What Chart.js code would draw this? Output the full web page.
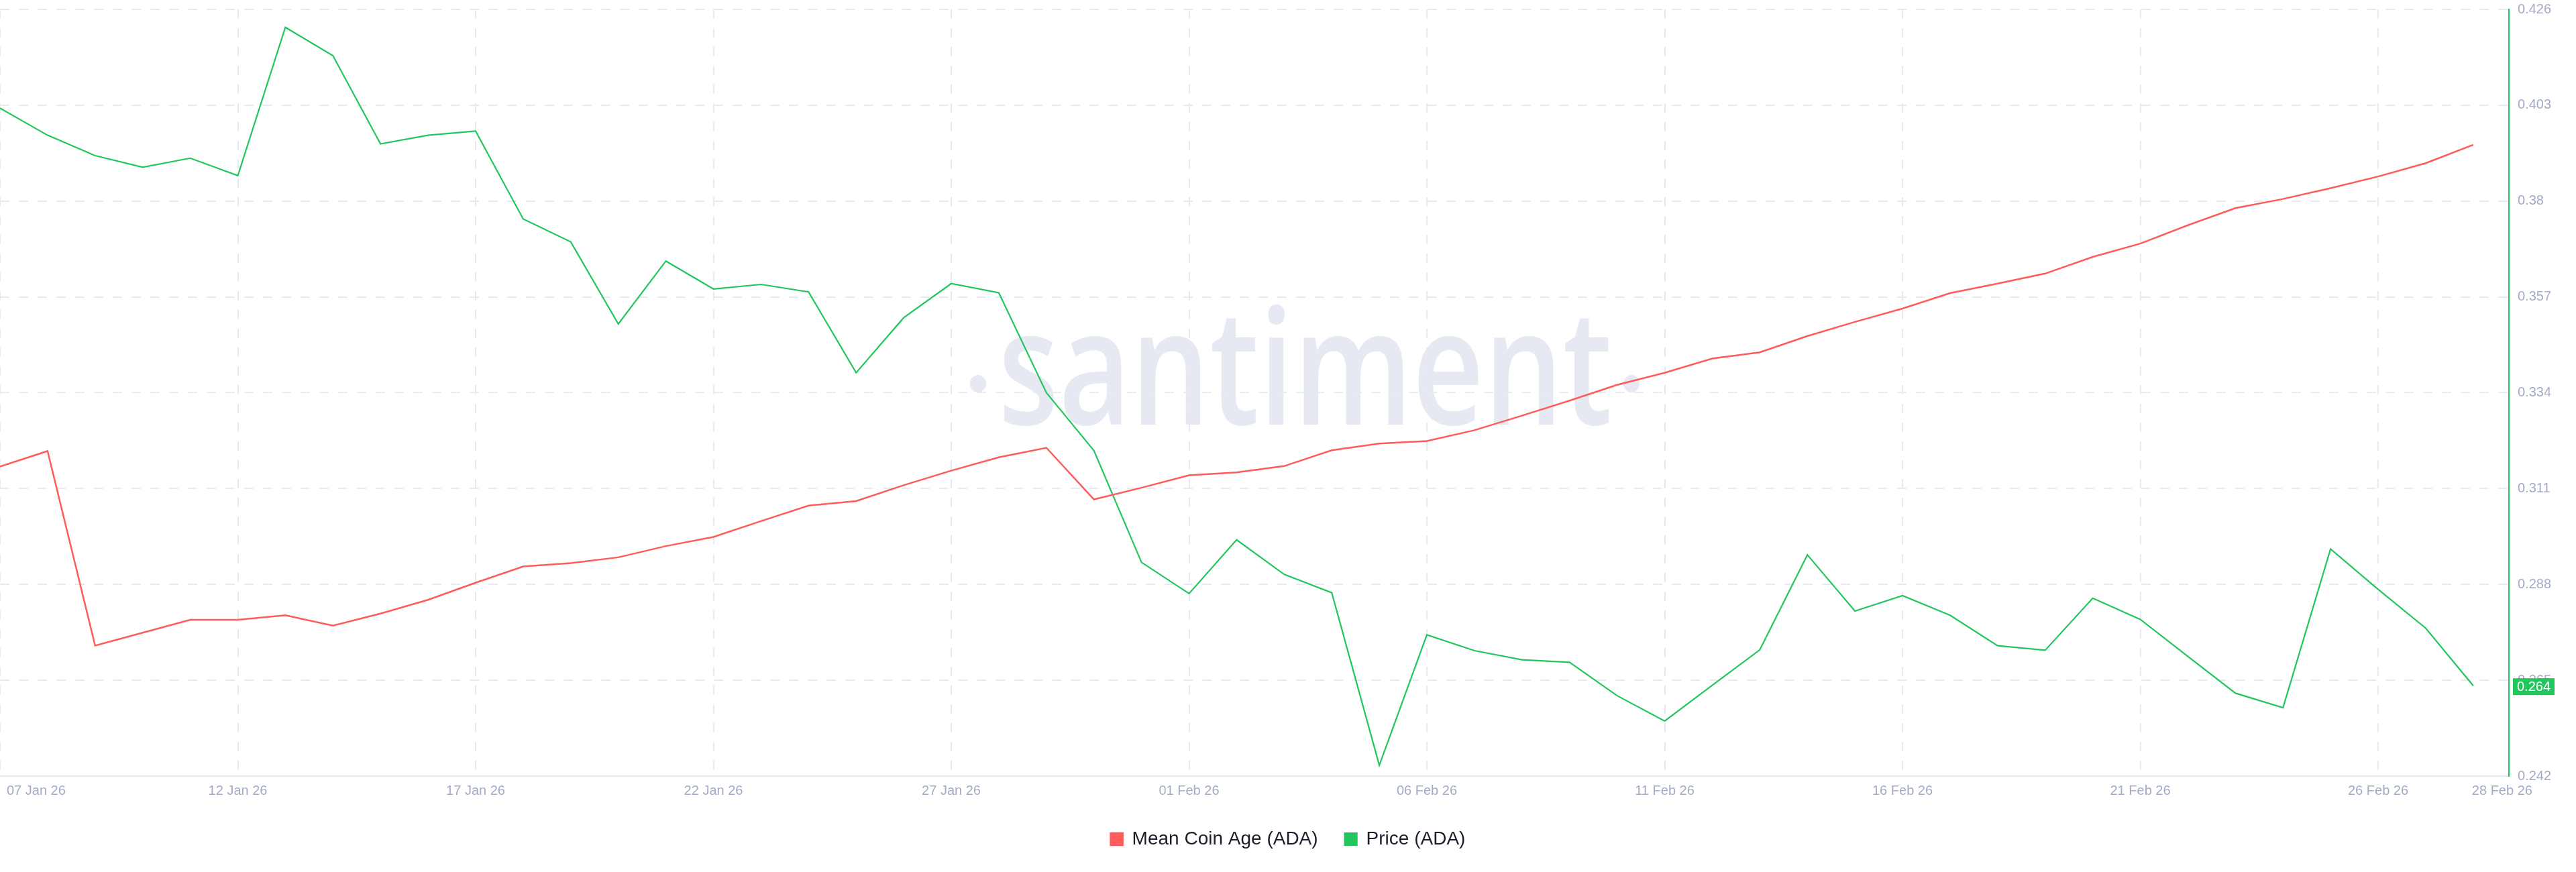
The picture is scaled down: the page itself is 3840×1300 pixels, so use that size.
<!DOCTYPE html>
<html>
<head>
<meta charset="utf-8">
<script src="https://cdn.jsdelivr.net/npm/chart.js@4.4.1/dist/chart.umd.min.js"></script>
<style>
    html, body { margin: 0; padding: 0; background: #ffffff; }
    #wrap { width: 3840px; height: 1300px; position: relative; }
</style>
</head>
<body>
<div id="wrap"><canvas id="chart"></canvas></div>
<script>
// Dates (one point per day)
const dates = [
    '07 Jan 26', '08 Jan 26', '09 Jan 26', '10 Jan 26', '11 Jan 26', '12 Jan 26', '13 Jan 26',
    '14 Jan 26', '15 Jan 26', '16 Jan 26', '17 Jan 26', '18 Jan 26', '19 Jan 26', '20 Jan 26',
    '21 Jan 26', '22 Jan 26', '23 Jan 26', '24 Jan 26', '25 Jan 26', '26 Jan 26', '27 Jan 26',
    '28 Jan 26', '29 Jan 26', '30 Jan 26', '31 Jan 26', '01 Feb 26', '02 Feb 26', '03 Feb 26',
    '04 Feb 26', '05 Feb 26', '06 Feb 26', '07 Feb 26', '08 Feb 26', '09 Feb 26', '10 Feb 26',
    '11 Feb 26', '12 Feb 26', '13 Feb 26', '14 Feb 26', '15 Feb 26', '16 Feb 26', '17 Feb 26',
    '18 Feb 26', '19 Feb 26', '20 Feb 26', '21 Feb 26', '22 Feb 26', '23 Feb 26', '24 Feb 26',
    '25 Feb 26', '26 Feb 26', '27 Feb 26', '28 Feb 26'
];

// Price (ADA), USD
const price = [
    0.4023, 0.3958, 0.3909, 0.3881, 0.3903, 0.3861, 0.4217,
    0.4149, 0.3937, 0.3958, 0.3968, 0.3757, 0.3702, 0.3505,
    0.3656, 0.3589, 0.3600, 0.3582, 0.3388, 0.3520, 0.3602,
    0.3580, 0.3340, 0.3201, 0.2933, 0.2858, 0.2987, 0.2904,
    0.2860, 0.2446, 0.2759, 0.2721, 0.2699, 0.2693, 0.2613,
    0.2552, 0.2638, 0.2723, 0.2951, 0.2816, 0.2853, 0.2806,
    0.2733, 0.2722, 0.2847, 0.2796, 0.2707, 0.2619, 0.2584,
    0.2965, 0.2868, 0.2775, 0.2637
];

// Mean Coin Age (ADA), days (own hidden axis)
const meanCoinAge = [
    316.3, 320.0, 273.3, 276.4, 279.5, 279.5, 280.6,
    278.1, 281.0, 284.3, 288.4, 292.3, 293.1, 294.5,
    297.2, 299.4, 303.2, 306.9, 308.0, 311.8, 315.3,
    318.5, 320.8, 308.4, 311.2, 314.2, 314.9, 316.4,
    320.2, 321.8, 322.4, 325.0, 328.5, 332.1, 335.9,
    338.8, 342.2, 343.7, 347.6, 351.0, 354.2, 357.9,
    360.2, 362.6, 366.6, 369.8, 374.2, 378.3, 380.5,
    383.1, 385.9, 389.1, 393.5
];

// Axis tick labels
const xTickLabels = ['07 Jan 26', '12 Jan 26', '17 Jan 26', '22 Jan 26', '27 Jan 26', '01 Feb 26',
    '06 Feb 26', '11 Feb 26', '16 Feb 26', '21 Feb 26', '26 Feb 26', '28 Feb 26'];
const priceTicks = [0.242, 0.265, 0.288, 0.311, 0.334, 0.357, 0.38, 0.403, 0.426];

const RED = '#ff5b5b';
const GREEN = '#22c55e';
const TICK_COLOR = '#a3abc5';
const GRID_COLOR = '#e7e9f3';
const FONT = '"Liberation Sans", Arial, sans-serif';

// Watermark ·santiment·
const watermarkPlugin = {
    id: 'watermark',
    beforeDraw(chart) {
        const ctx = chart.ctx;
        ctx.save();
        ctx.fillStyle = '#e6e9f2';
        ctx.font = '600 240px "Open Sans", sans-serif';
        ctx.textBaseline = 'alphabetic';
        ctx.textAlign = 'left';
        const text = 'santiment';
        const w = ctx.measureText(text).width;
        ctx.translate(1488, 633);
        ctx.scale(915 / w, 1);
        ctx.fillText(text, 0, 0);
        ctx.restore();
        ctx.save();
        ctx.fillStyle = '#e6e9f2';
        [1458, 2432].forEach(cx => {
            ctx.beginPath();
            ctx.ellipse(cx, 572, 12, 13, 0, 0, Math.PI * 2);
            ctx.fill();
        });
        ctx.restore();
    }
};

// Date labels under the x axis (first one pushed inside the canvas)
const xLabelsPlugin = {
    id: 'xLabels',
    afterDraw(chart) {
        const {ctx, chartArea, scales: {x}} = chart;
        ctx.save();
        ctx.font = '20px ' + FONT;
        ctx.fillStyle = TICK_COLOR;
        ctx.textBaseline = 'middle';
        const y = chartArea.bottom + 22;
        xTickLabels.forEach((lab, k) => {
            const px = x.getPixelForValue(dates.indexOf(lab));
            if (k === 0) {
                ctx.textAlign = 'left';
                ctx.fillText(lab, px + 10, y);
            } else if (k === xTickLabels.length - 1) {
                ctx.textAlign = 'left';
                ctx.fillText(lab, px - 2, y);
            } else {
                ctx.textAlign = 'center';
                ctx.fillText(lab, px, y);
            }
        });
        ctx.restore();
    }
};

// Last price tag on the right axis
const lastValuePlugin = {
    id: 'lastValue',
    afterDraw(chart) {
        const {ctx, chartArea, scales: {yPrice}} = chart;
        const last = price[price.length - 1];
        const y = yPrice.getPixelForValue(last) + 1.5;
        ctx.save();
        ctx.fillStyle = GREEN;
        ctx.fillRect(chartArea.right + 6, y - 12.5, 62, 25);
        ctx.fillStyle = '#ffffff';
        ctx.font = '20px ' + FONT;
        ctx.textAlign = 'left';
        ctx.textBaseline = 'middle';
        ctx.fillText(last.toFixed(3), chartArea.right + 12, y + 1);
        ctx.restore();
    }
};

const ctx = document.getElementById('chart').getContext('2d');
const chart = new Chart(ctx, {
    type: 'line',
    data: {
        datasets: [
            {
                label: 'Mean Coin Age (ADA)',
                data: meanCoinAge.map((v, i) => ({x: i, y: v})),
                yAxisID: 'yAge',
                borderColor: RED,
                backgroundColor: RED,
                borderWidth: 2.5,
                pointRadius: 0,
                tension: 0
            },
            {
                label: 'Price (ADA)',
                data: price.map((v, i) => ({x: i, y: v})),
                yAxisID: 'yPrice',
                borderColor: GREEN,
                backgroundColor: GREEN,
                borderWidth: 2.2,
                pointRadius: 0,
                tension: 0
            }
        ]
    },
    options: {
        responsive: true,
        maintainAspectRatio: false,
        animation: false,
        layout: { padding: { top: 14, left: 0, right: 0, bottom: 25 } },
        plugins: {
            legend: {
                display: true,
                position: 'bottom',
                labels: {
                    boxWidth: 18,
                    boxHeight: 18,
                    padding: 40,
                    color: '#1b1d2c',
                    font: { size: 28, family: FONT }
                }
            },
            tooltip: { enabled: false }
        },
        scales: {
            x: {
                type: 'linear',
                min: 0,
                max: 52.75,
                afterBuildTicks: (scale) => {
                    scale.ticks = xTickLabels.map(l => ({value: dates.indexOf(l)}));
                },
                afterFit: (scale) => {
                    scale.height = 40;
                    scale.paddingLeft = 0;
                    scale.paddingRight = 0;
                },
                ticks: { display: false },
                grid: {
                    color: (c) => (c.tick && c.tick.value === dates.length - 1) ? 'rgba(0,0,0,0)' : GRID_COLOR,
                    lineWidth: 2,
                    drawTicks: false
                },
                border: { display: true, color: GRID_COLOR, width: 2, dash: [14, 14] }
            },
            yAge: {
                type: 'linear',
                position: 'left',
                display: false,
                min: 242,
                max: 426
            },
            yPrice: {
                type: 'linear',
                position: 'right',
                min: priceTicks[0],
                max: priceTicks[priceTicks.length - 1],
                afterBuildTicks: (scale) => {
                    scale.ticks = priceTicks.map(v => ({value: v}));
                },
                afterFit: (scale) => {
                    scale.width = 100;
                    scale.paddingTop = 0;
                    scale.paddingBottom = 0;
                },
                ticks: {
                    color: TICK_COLOR,
                    padding: 13,
                    font: { size: 20, family: FONT },
                    callback: (v) => String(parseFloat(Number(v).toFixed(3)))
                },
                grid: {
                    color: GRID_COLOR,
                    lineWidth: 2,
                    drawTicks: false
                },
                border: { display: true, color: GREEN, width: 2, dash: [14, 14] }
            }
        }
    },
    plugins: [watermarkPlugin, xLabelsPlugin, lastValuePlugin]
});
</script>
</body>
</html>
